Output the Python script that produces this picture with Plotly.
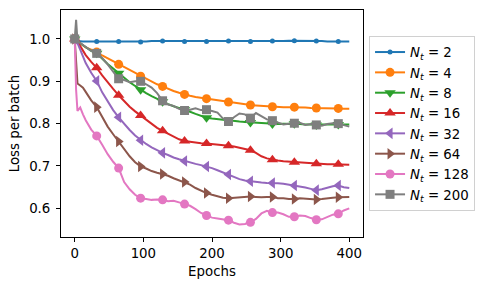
import plotly.graph_objects as go

epochs = [0, 2, 4, 8, 12, 16, 24, 32, 40, 48, 56, 64, 72, 80, 88, 96, 104, 112, 120, 128,
          136, 144, 152, 160, 168, 176, 184, 192, 200, 208, 216, 224, 232, 240, 248, 256,
          264, 272, 280, 288, 296, 304, 312, 320, 328, 336, 344, 352, 360, 368, 376, 384,
          392, 400]

loss_nt2 = [1.000, 0.996, 0.995, 0.994, 0.994, 0.994, 0.994, 0.994, 0.994, 0.994, 0.994, 0.994,
            0.994, 0.993, 0.993, 0.993, 0.994, 0.995, 0.995, 0.995, 0.995, 0.994, 0.994, 0.994,
            0.994, 0.994, 0.994, 0.994, 0.994, 0.994, 0.995, 0.995, 0.995, 0.994, 0.994, 0.994,
            0.994, 0.994, 0.995, 0.995, 0.995, 0.995, 0.996, 0.996, 0.996, 0.995, 0.995, 0.995,
            0.995, 0.994, 0.994, 0.994, 0.994, 0.994]
loss_nt4 = [1.000, 0.997, 0.994, 0.990, 0.985, 0.980, 0.975, 0.969, 0.961, 0.954, 0.947, 0.940,
            0.933, 0.926, 0.919, 0.912, 0.905, 0.899, 0.893, 0.888, 0.882, 0.877, 0.873, 0.869,
            0.866, 0.863, 0.861, 0.859, 0.857, 0.855, 0.853, 0.851, 0.849, 0.847, 0.845, 0.844,
            0.843, 0.842, 0.841, 0.840, 0.840, 0.839, 0.839, 0.839, 0.838, 0.838, 0.837, 0.837,
            0.837, 0.836, 0.836, 0.836, 0.835, 0.835]
loss_nt8 = [1.000, 0.997, 0.994, 0.990, 0.985, 0.980, 0.972, 0.966, 0.953, 0.941, 0.930, 0.919,
            0.909, 0.898, 0.889, 0.880, 0.872, 0.865, 0.858, 0.852, 0.846, 0.841, 0.837, 0.833,
            0.828, 0.823, 0.819, 0.814, 0.812, 0.810, 0.809, 0.808, 0.806, 0.805, 0.804, 0.803,
            0.802, 0.801, 0.800, 0.799, 0.799, 0.800, 0.800, 0.800, 0.799, 0.798, 0.798, 0.797,
            0.797, 0.798, 0.798, 0.798, 0.798, 0.798]
loss_nt16 = [1.000, 0.997, 0.993, 0.983, 0.972, 0.962, 0.946, 0.932, 0.914, 0.897, 0.882, 0.867,
             0.853, 0.840, 0.829, 0.819, 0.809, 0.799, 0.790, 0.783, 0.776, 0.769, 0.763, 0.759,
             0.757, 0.755, 0.754, 0.753, 0.752, 0.751, 0.749, 0.748, 0.746, 0.743, 0.740, 0.737,
             0.731, 0.723, 0.718, 0.715, 0.713, 0.711, 0.710, 0.709, 0.708, 0.707, 0.706, 0.705,
             0.705, 0.704, 0.704, 0.704, 0.703, 0.703]
loss_nt32 = [1.000, 0.995, 0.990, 0.975, 0.958, 0.943, 0.920, 0.901, 0.874, 0.852, 0.832, 0.815,
             0.799, 0.785, 0.772, 0.761, 0.752, 0.744, 0.737, 0.731, 0.726, 0.720, 0.716, 0.712,
             0.708, 0.705, 0.702, 0.699, 0.695, 0.690, 0.685, 0.680, 0.674, 0.669, 0.666, 0.664,
             0.662, 0.661, 0.660, 0.660, 0.659, 0.658, 0.656, 0.654, 0.652, 0.649, 0.646, 0.643,
             0.645, 0.649, 0.652, 0.654, 0.650, 0.648]
loss_nt64 = [1.000, 0.950, 0.895, 0.890, 0.885, 0.875, 0.855, 0.839, 0.815, 0.793, 0.775, 0.758,
             0.740, 0.723, 0.709, 0.699, 0.694, 0.688, 0.684, 0.681, 0.677, 0.671, 0.666, 0.662,
             0.656, 0.648, 0.641, 0.636, 0.632, 0.628, 0.625, 0.624, 0.625, 0.626, 0.627, 0.628,
             0.627, 0.626, 0.627, 0.627, 0.624, 0.624, 0.622, 0.622, 0.624, 0.623, 0.622, 0.621,
             0.622, 0.624, 0.625, 0.626, 0.627, 0.627]
loss_nt128 = [1.000, 0.880, 0.830, 0.838, 0.822, 0.808, 0.786, 0.771, 0.750, 0.728, 0.710, 0.695,
              0.662, 0.645, 0.632, 0.624, 0.622, 0.620, 0.621, 0.620, 0.617, 0.618, 0.614, 0.610,
              0.606, 0.598, 0.589, 0.583, 0.578, 0.576, 0.574, 0.572, 0.566, 0.562, 0.563, 0.567,
              0.575, 0.588, 0.594, 0.590, 0.590, 0.586, 0.580, 0.580, 0.583, 0.582, 0.577, 0.573,
              0.574, 0.580, 0.585, 0.587, 0.595, 0.600]
loss_nt200 = [1.000, 1.045, 0.995, 0.990, 0.985, 0.980, 0.972, 0.966, 0.955, 0.940, 0.922, 0.906,
              0.903, 0.898, 0.900, 0.900, 0.893, 0.885, 0.872, 0.854, 0.845, 0.842, 0.835, 0.831,
              0.833, 0.836, 0.832, 0.833, 0.830, 0.826, 0.812, 0.805, 0.815, 0.824, 0.822, 0.813,
              0.825, 0.818, 0.810, 0.807, 0.803, 0.798, 0.800, 0.801, 0.802, 0.797, 0.799, 0.797,
              0.795, 0.799, 0.801, 0.800, 0.797, 0.793]

nt_values = [2, 4, 8, 16, 32, 64, 128, 200]
series = [loss_nt2, loss_nt4, loss_nt8, loss_nt16, loss_nt32, loss_nt64, loss_nt128, loss_nt200]
colors = ["#1f77b4", "#ff7f0e", "#2ca02c", "#d62728", "#9467bd", "#8c564b", "#e377c2", "#7f7f7f"]
symbols = ["circle", "circle", "triangle-down", "triangle-up", "triangle-left",
           "triangle-right", "circle", "square"]
msizes = [5, 9, 10, 10, 10, 10, 9, 9]
mark_every = 32

FS = 13.33

fig = go.Figure()
for nt, ys, c, sym, ms in zip(nt_values, series, colors, symbols, msizes):
    name = f"<i>N</i><sub><i>t</i></sub> = {nt}"
    fig.add_trace(go.Scatter(x=epochs, y=ys, mode="lines", line=dict(color=c, width=2),
                             showlegend=False, hoverinfo="skip"))
    mx = [e for e in epochs if e % mark_every == 0 and e < 400]
    my = [v for e, v in zip(epochs, ys) if e % mark_every == 0 and e < 400]
    fig.add_trace(go.Scatter(x=mx, y=my, mode="markers", showlegend=False,
                             marker=dict(color=c, symbol=sym, size=ms, line=dict(width=0))))
    fig.add_trace(go.Scatter(x=[None], y=[None], mode="lines+markers", name=name,
                             line=dict(color=c, width=2),
                             marker=dict(color=c, symbol=sym, size=ms, line=dict(width=0))))

axis_common = dict(showline=True, mirror=True, linecolor="black", linewidth=1,
                   ticks="outside", ticklen=4, tickwidth=1, tickcolor="black",
                   showgrid=False, zeroline=False, automargin=False,
                   tickfont=dict(family="DejaVu Sans", size=FS, color="black"))

fig.update_layout(
    width=488, height=289,
    margin=dict(l=61, r=125, t=10, b=52, autoexpand=False),
    paper_bgcolor="white", plot_bgcolor="white",
    font=dict(family="DejaVu Sans", size=FS, color="black"),
    xaxis=dict(range=[-20, 420], tickvals=[0, 100, 200, 300, 400],
               title=dict(text="Epochs", font=dict(size=FS), standoff=6), **axis_common),
    yaxis=dict(range=[0.5323, 1.0684], tickvals=[0.6, 0.7, 0.8, 0.9, 1.0], tickformat=".1f",
               ticklabelstandoff=3,
               title=dict(text="Loss per batch", font=dict(size=FS), standoff=6), **axis_common),
    legend=dict(x=1.02, y=0.886, xanchor="left", yanchor="top",
                bordercolor="#d0d0d0", borderwidth=1, bgcolor="white",
                font=dict(family="DejaVu Sans", size=FS), itemwidth=30,
                tracegroupgap=0),
)

fig.write_html("out.html", post_script="document.body.style.margin='0';",
               config={"displayModeBar": False})
